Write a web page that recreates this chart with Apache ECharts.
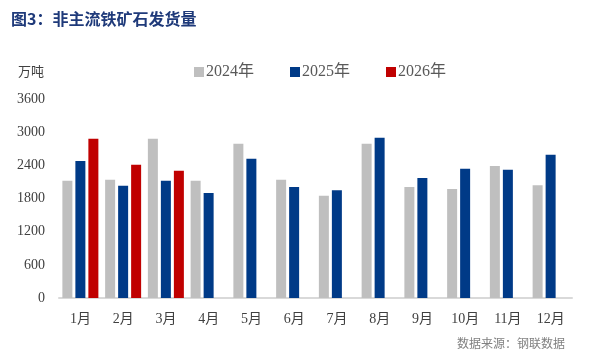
<!DOCTYPE html>
<html>
<head>
<meta charset="utf-8">
<script src="https://cdn.jsdelivr.net/npm/echarts@6/dist/echarts.min.js"></script>
<style>
  html, body { margin: 0; padding: 0; background: #fff; }
  #chart { width: 591px; height: 354px; }
</style>
</head>
<body>
<div id="chart"></div>
<script>
// 数据
var months = ["1月", "2月", "3月", "4月", "5月", "6月", "7月", "8月", "9月", "10月", "11月", "12月"];
var data2024 = [2120, 2140, 2880, 2120, 2790, 2140, 1850, 2790, 2010, 1970, 2390, 2040];
var data2025 = [2480, 2030, 2120, 1900, 2520, 2010, 1950, 2900, 2170, 2340, 2320, 2590];
var data2026 = [2880, 2410, 2300, null, null, null, null, null, null, null, null, null];
var yTicks = [0, 600, 1200, 1800, 2400, 3000, 3600];

var serif = "'Liberation Serif', 'Noto Sans CJK SC', serif";
var myChart = echarts.init(document.getElementById("chart"));

var option = {
  backgroundColor: "#fff",
  color: ["#bfbfbf", "#003a87", "#c00000"],
  title: [
    {
      text: "图3：非主流铁矿石发货量",
      left: 6,
      top: 6,
      textStyle: { fontSize: 16, fontWeight: "bold", color: "#1f3a7a", fontFamily: "'Noto Sans CJK SC', serif" }
    },
    {
      text: "万吨",
      left: 13,
      top: 60,
      textStyle: { fontSize: 13, fontWeight: "normal", color: "#404040", fontFamily: "'Noto Sans CJK SC', serif" }
    },
    {
      text: "数据来源：钢联数据",
      right: 21,
      top: 332,
      textStyle: { fontSize: 12, fontWeight: "normal", color: "#808080", fontFamily: "'Noto Sans CJK SC', serif" }
    }
  ],
  legend: {
    top: 59,
    left: 189,
    itemWidth: 10,
    itemHeight: 10,
    itemGap: 36,
    icon: "rect",
    textStyle: { fontSize: 16, color: "#595959", fontFamily: serif, padding: [0, 0, 0, -3] },
    data: ["2024年", "2025年", "2026年"]
  },
  grid: { left: 59, right: 19, top: 99, bottom: 56 },
  xAxis: {
    type: "category",
    data: months,
    axisLine: { lineStyle: { color: "#d9d9d9", width: 2 } },
    axisTick: { show: false },
    axisLabel: { fontSize: 14, color: "#404040", fontFamily: serif, margin: 14 }
  },
  yAxis: {
    type: "value",
    min: yTicks[0],
    max: yTicks[yTicks.length - 1],
    interval: 600,
    splitLine: { show: false },
    axisLine: { show: false },
    axisTick: { show: false },
    axisLabel: {
      fontSize: 14, color: "#404040", fontFamily: serif, margin: 14,
      formatter: function (v) { return String(v); }
    }
  },
  series: [
    { name: "2024年", type: "bar", data: data2024, barWidth: 10, barGap: "30%" },
    { name: "2025年", type: "bar", data: data2025, barWidth: 10, barGap: "30%" },
    { name: "2026年", type: "bar", data: data2026, barWidth: 10, barGap: "30%" }
  ]
};
myChart.setOption(option);
</script>
</body>
</html>
